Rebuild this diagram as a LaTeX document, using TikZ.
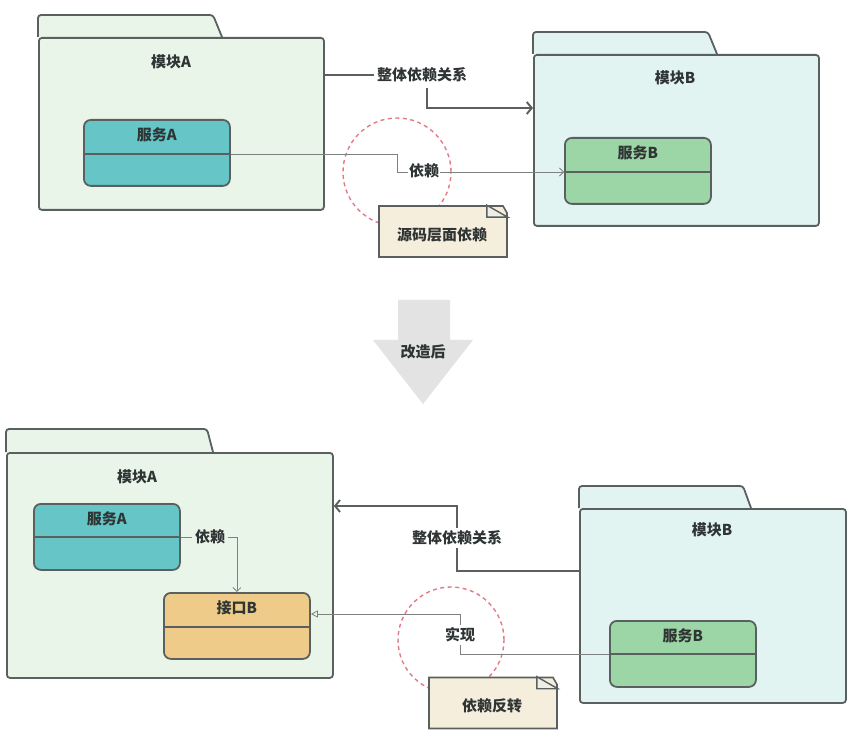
\documentclass[tikz,border=0pt]{standalone}
\usepackage{fontspec}
\setmainfont{Noto Sans CJK SC}
\usetikzlibrary{arrows.meta, positioning, shapes.misc, calc, backgrounds}

\definecolor{edge}{HTML}{5A605F}
\definecolor{thinedge}{HTML}{7D8281}
\definecolor{ink}{HTML}{2F3434}
\definecolor{modgreen}{HTML}{EAF5E9}
\definecolor{modcyan}{HTML}{E2F4F2}
\definecolor{svcteal}{HTML}{66C5C7}
\definecolor{svcgreen}{HTML}{9DD6A6}
\definecolor{ifaceorange}{HTML}{EECB89}
\definecolor{notecream}{HTML}{F6EEDC}
\definecolor{foldgray}{HTML}{EEEDE6}
\definecolor{ringred}{HTML}{E07A86}
\definecolor{arrowgray}{HTML}{E3E3E3}

\tikzstyle{pkg} = [rectangle, rounded corners=3pt,
anchor=north west,
draw=edge,
line width=1.8pt]
\tikzstyle{pkgtab} = [draw=edge, line width=1.8pt, rounded corners=3pt]
\tikzstyle{svc} = [rectangle, rounded corners=7pt,
anchor=north west,
minimum width=146pt,
minimum height=66pt,
draw=edge,
line width=1.8pt]
\tikzstyle{split} = [draw=edge, line width=1.8pt]
\tikzstyle{txt} = [text=ink, inner sep=3pt,
font=\bfseries\fontsize{15}{18}\selectfont]
\tikzstyle{whole} = [draw=edge, line width=1.9pt]
\tikzstyle{uses} = [draw=thinedge, line width=0.8pt]
\tikzstyle{wholearrow} = [-{Straight Barb[length=5pt,width=12pt]}]
\tikzstyle{usesarrow} = [-{Straight Barb[length=4pt,width=8pt]}]
\tikzstyle{realize} = [-{Triangle[open,length=7pt,width=7pt]}]
\tikzstyle{ring} = [circle, draw=ringred, line width=1.4pt,
dash pattern=on 4pt off 3.5pt]
\tikzstyle{note} = [chamfered rectangle,
chamfered rectangle corners=north east,
chamfered rectangle xsep=21pt,
chamfered rectangle angle=30,
minimum width=128pt,
minimum height=51pt,
draw=edge, line width=1.6pt,
fill=notecream]
\tikzstyle{fold} = [draw=edge, line width=1.4pt, fill=foldgray]

\begin{document}
\begin{tikzpicture}[x=1pt, y=-1pt]
\useasboundingbox (0,0) rectangle (849,735);

% ---- before ----
\node (modA) [pkg, fill=modgreen, minimum width=285pt, minimum height=172pt] at (38,37) {};
\node (modB) [pkg, fill=modcyan, minimum width=285pt, minimum height=171pt] at (533,54) {};
\begin{scope}[on background layer]
\draw [pkgtab, fill=modgreen] (modA.north west) -- ++(0,-22) -- ++(175,0) -- ++(9,22);
\draw [pkgtab, fill=modcyan] (modB.north west) -- ++(0,-22) -- ++(175,0) -- ++(9,22);
\end{scope}
\node (modAtxt) [txt] at (171,62) {模块A};
\node (modBtxt) [txt] at (675,78) {模块B};

\node (svcA) [svc, fill=svcteal] at (83,119) {};
\node (svcB) [svc, fill=svcgreen] at (564,137) {};
\node [txt, below=5pt of svcA.north] {服务A};
\node [txt, below=5pt of svcB.north] {服务B};
\draw [split] ([yshift=-35pt]svcA.north west) -- ([yshift=-35pt]svcA.north east);
\draw [split] ([yshift=-35pt]svcB.north west) -- ([yshift=-35pt]svcB.north east);

\node (allTop) [txt] at (422,75) {整体依赖关系};
\draw [whole] (modA.east |- allTop) -- (allTop.west);
\draw [whole, wholearrow] ([xshift=5pt,yshift=-3pt]allTop.south) |- (modB.west |- 0,108);

\node (ringTop) [ring, minimum size=108pt] at (397,172) {};
\draw [uses, usesarrow] ([yshift=-35pt]svcA.north east) -| (ringTop.center) -- (svcB.west |- ringTop.center);
\node (depTop) [txt, fill=white, inner sep=1pt] at (424,171) {依赖};

\node (noteTop) [note] at (443,231.5) {};
\draw [fold] ($(noteTop.north -| noteTop.east)+(-21pt,0)$) -- ++(0,12) -- ++(21,0) -- cycle;
\node [txt] at (442,235) {源码层面依赖};

% ---- change ----
\fill [arrowgray] (398,300) -- (450,300) -- (450,340) -- (473,340) -- (423,404) -- (373,340) -- (398,340) -- cycle;
\node (reform) [txt] at (423,352) {改造后};

% ---- after ----
\node (modA2) [pkg, fill=modgreen, minimum width=326pt, minimum height=225pt] at (6,452) {};
\node (modB2) [pkg, fill=modcyan, minimum width=266pt, minimum height=194pt] at (579,508) {};
\begin{scope}[on background layer]
\draw [pkgtab, fill=modgreen] (modA2.north west) -- ++(0,-23) -- ++(201,0) -- ++(6,23);
\draw [pkgtab, fill=modcyan] (modB2.north west) -- ++(0,-22) -- ++(164,0) -- ++(8,22);
\end{scope}
\node (modA2txt) [txt] at (137,477) {模块A};
\node (modB2txt) [txt] at (712,530) {模块B};

\node (svcA2) [svc, fill=svcteal] at (33,503) {};
\node (ifB) [svc, fill=ifaceorange] at (163,592) {};
\node (svcB2) [svc, fill=svcgreen] at (609,620) {};
\node [txt, below=5pt of svcA2.north] {服务A};
\node [txt, below=5pt of ifB.north] {接口B};
\node [txt, below=5pt of svcB2.north] {服务B};
\draw [split] ([yshift=-34pt]svcA2.north west) -- ([yshift=-34pt]svcA2.north east);
\draw [split] ([yshift=-35pt]ifB.north west) -- ([yshift=-35pt]ifB.north east);
\draw [split] ([yshift=-34pt]svcB2.north west) -- ([yshift=-34pt]svcB2.north east);

\node (depBot) [txt] at (210,537) {依赖};
\draw [uses] ([yshift=-34pt]svcA2.north east) -- (depBot.west);
\draw [uses, usesarrow] (depBot.east) -| (ifB.north);

\node (allBot) [txt] at (457,538) {整体依赖关系};
\draw [whole] (modB2.west |- 0,571) -| (allBot.south);
\draw [whole, wholearrow] (allBot.north) |- (modA2.east |- 0,506);

\node (ringBot) [ring, minimum size=106pt] at (451,640) {};
\node (implBot) [txt] at (460,635) {实现};
\draw [uses] ([yshift=-34pt]svcB2.north west) -| (implBot.south);
\draw [uses, realize] (implBot.north) |- (ifB.east |- 0,614);

\node (noteBot) [note] at (493,703) {};
\draw [fold] ($(noteBot.north -| noteBot.east)+(-21pt,0)$) -- ++(0,12) -- ++(21,0) -- cycle;
\node [txt] at (492,706) {依赖反转};

\end{tikzpicture}
\end{document}
